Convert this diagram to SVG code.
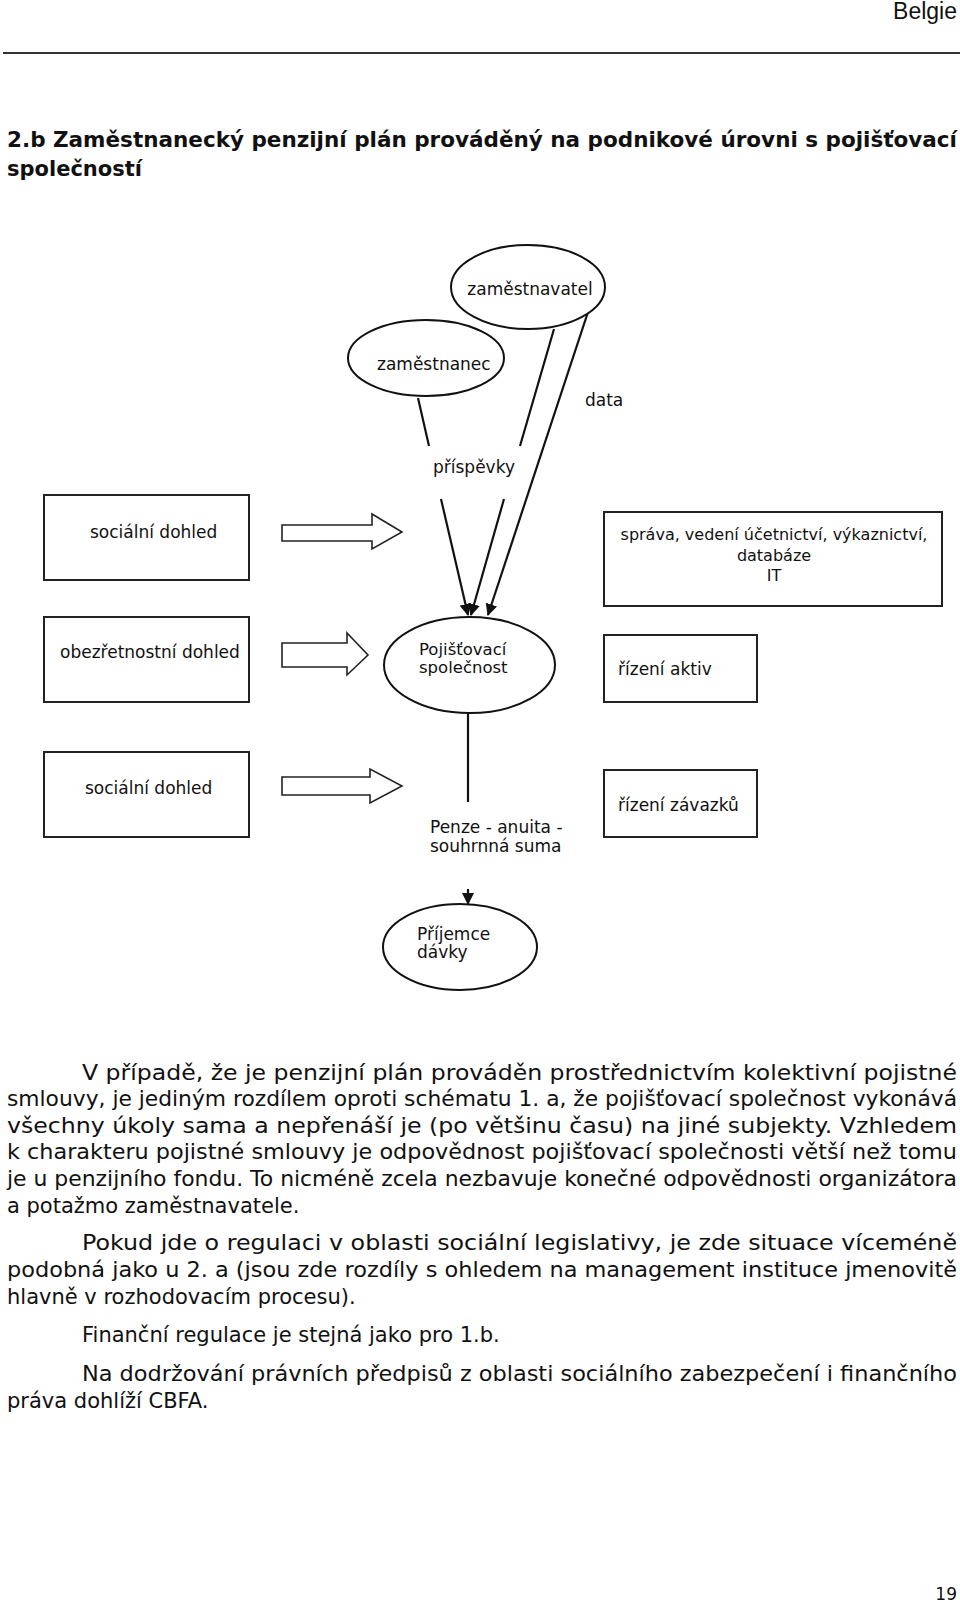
<svg xmlns="http://www.w3.org/2000/svg" width="960" height="1604" viewBox="0 0 960 1604">
<style>
.t{font-family:"DejaVu Sans",Verdana,sans-serif;font-size:17px;fill:#111}
.b{font-family:"DejaVu Sans",Verdana,sans-serif;font-size:21px;fill:#111}
.h{font-family:"DejaVu Sans",Verdana,sans-serif;font-size:21px;font-weight:bold;fill:#111}
.box{fill:#fff;stroke:#222;stroke-width:2}
.ell{fill:#fff;stroke:#111;stroke-width:2}
.blk{fill:#fff;stroke:#222;stroke-width:1.6;stroke-linejoin:miter}
.ln{fill:none;stroke:#111;stroke-width:2.2}
</style>
<defs>
<marker id="ah" viewBox="0 0 12 12" refX="11" refY="6" markerWidth="12" markerHeight="12" markerUnits="userSpaceOnUse" orient="auto">
<path d="M0,0 L12,6 L0,12 z" fill="#111"/>
</marker>
</defs>
<rect width="960" height="1604" fill="#fff"/>
<text x="957" y="19" text-anchor="end" style="font-family:'Liberation Sans',Arial,sans-serif;font-size:23px;fill:#111">Belgie</text>
<line x1="3" y1="53" x2="960" y2="53" stroke="#333" stroke-width="2"/>
<text class="h" x="7" y="147" textLength="950" lengthAdjust="spacingAndGlyphs">2.b Zaměstnanecký penzijní plán prováděný na podnikové úrovni s pojišťovací</text>
<text class="h" x="7" y="176">společností</text>

<g id="connectors">
<line class="ln" x1="418" y1="398" x2="429" y2="446"/>
<line class="ln" x1="554" y1="329" x2="520" y2="446"/>
<line class="ln" x1="441" y1="499" x2="468" y2="615" marker-end="url(#ah)"/>
<line class="ln" x1="504" y1="499" x2="471" y2="615" marker-end="url(#ah)"/>
<line class="ln" x1="588" y1="312" x2="488" y2="615" marker-end="url(#ah)"/>
<line class="ln" x1="468" y1="713" x2="468" y2="802"/>
<line class="ln" x1="468" y1="889" x2="468" y2="904" marker-end="url(#ah)"/>
<path class="blk" d="M282,525 H372 V514 L402,532 L372,549 V541 H282 Z"/>
<path class="blk" d="M282,643 H347 V633 L368,655 L347,675 V667 H282 Z"/>
<path class="blk" d="M282,777 H370 V769 L402,786 L370,803 V795 H282 Z"/>
<text class="t" x="585" y="406">data</text>
<text class="t" x="433" y="473">příspěvky</text>
<text class="t" x="430" y="833">Penze - anuita -</text>
<text class="t" x="430" y="852">souhrnná suma</text>
</g>

<g id="zamestnavatel">
<ellipse class="ell" cx="528" cy="287" rx="77" ry="42"/>
<text class="t" x="530" y="295" text-anchor="middle">zaměstnavatel</text>
</g>
<g id="zamestnanec">
<ellipse class="ell" cx="426" cy="358" rx="78" ry="38"/>
<text class="t" x="377" y="370">zaměstnanec</text>
</g>
<g id="pojistovna">
<ellipse class="ell" cx="469.5" cy="665" rx="85.5" ry="48"/>
<text class="t" x="419" y="655" style="font-size:16.5px">Pojišťovací</text>
<text class="t" x="419" y="673" style="font-size:16.5px">společnost</text>
</g>
<g id="prijemce">
<ellipse class="ell" cx="460" cy="947" rx="77" ry="43"/>
<text class="t" x="417" y="940">Příjemce</text>
<text class="t" x="417" y="958">dávky</text>
</g>
<g id="socialni-dohled-1">
<rect class="box" x="44" y="495" width="205" height="85"/>
<text class="t" x="90" y="538">sociální dohled</text>
</g>
<g id="obezretnostni-dohled">
<rect class="box" x="44" y="617" width="205" height="85"/>
<text class="t" x="60" y="658">obezřetnostní dohled</text>
</g>
<g id="socialni-dohled-2">
<rect class="box" x="44" y="752" width="205" height="85"/>
<text class="t" x="85" y="794">sociální dohled</text>
</g>
<g id="sprava">
<rect class="box" x="604" y="512" width="338" height="94"/>
<text class="t" x="774" y="540" text-anchor="middle" style="font-size:16px">správa, vedení účetnictví, výkaznictví,</text>
<text class="t" x="774" y="561" text-anchor="middle" style="font-size:16px">databáze</text>
<text class="t" x="774" y="581" text-anchor="middle" style="font-size:16px">IT</text>
</g>
<g id="rizeni-aktiv">
<rect class="box" x="604" y="635" width="153" height="67"/>
<text class="t" x="618" y="675">řízení aktiv</text>
</g>
<g id="rizeni-zavazku">
<rect class="box" x="604" y="770" width="153" height="67"/>
<text class="t" x="618" y="811">řízení závazků</text>
</g>

<g id="body">
<text class="b" x="82" y="1080" textLength="875" lengthAdjust="spacingAndGlyphs">V případě, že je penzijní plán prováděn prostřednictvím kolektivní pojistné</text>
<text class="b" x="7" y="1106" textLength="950" lengthAdjust="spacingAndGlyphs">smlouvy, je jediným rozdílem oproti schématu 1. a, že pojišťovací společnost vykonává</text>
<text class="b" x="7" y="1133" textLength="950" lengthAdjust="spacingAndGlyphs">všechny úkoly sama a nepřenáší je (po většinu času) na jiné subjekty. Vzhledem</text>
<text class="b" x="7" y="1159" textLength="950" lengthAdjust="spacingAndGlyphs">k charakteru pojistné smlouvy je odpovědnost pojišťovací společnosti větší než tomu</text>
<text class="b" x="7" y="1186" textLength="950" lengthAdjust="spacingAndGlyphs">je u penzijního fondu. To nicméně zcela nezbavuje konečné odpovědnosti organizátora</text>
<text class="b" x="7" y="1213">a potažmo zaměstnavatele.</text>
<text class="b" x="82" y="1250" textLength="875" lengthAdjust="spacingAndGlyphs">Pokud jde o regulaci v oblasti sociální legislativy, je zde situace víceméně</text>
<text class="b" x="7" y="1277" textLength="950" lengthAdjust="spacingAndGlyphs">podobná jako u 2. a (jsou zde rozdíly s ohledem na management instituce jmenovitě</text>
<text class="b" x="7" y="1304">hlavně v rozhodovacím procesu).</text>
<text class="b" x="82" y="1342">Finanční regulace je stejná jako pro 1.b.</text>
<text class="b" x="82" y="1381" textLength="875" lengthAdjust="spacingAndGlyphs">Na dodržování právních předpisů z oblasti sociálního zabezpečení i finančního</text>
<text class="b" x="7" y="1408">práva dohlíží CBFA.</text>
<text class="t" x="957" y="1600" text-anchor="end">19</text>
</g>
</svg>
